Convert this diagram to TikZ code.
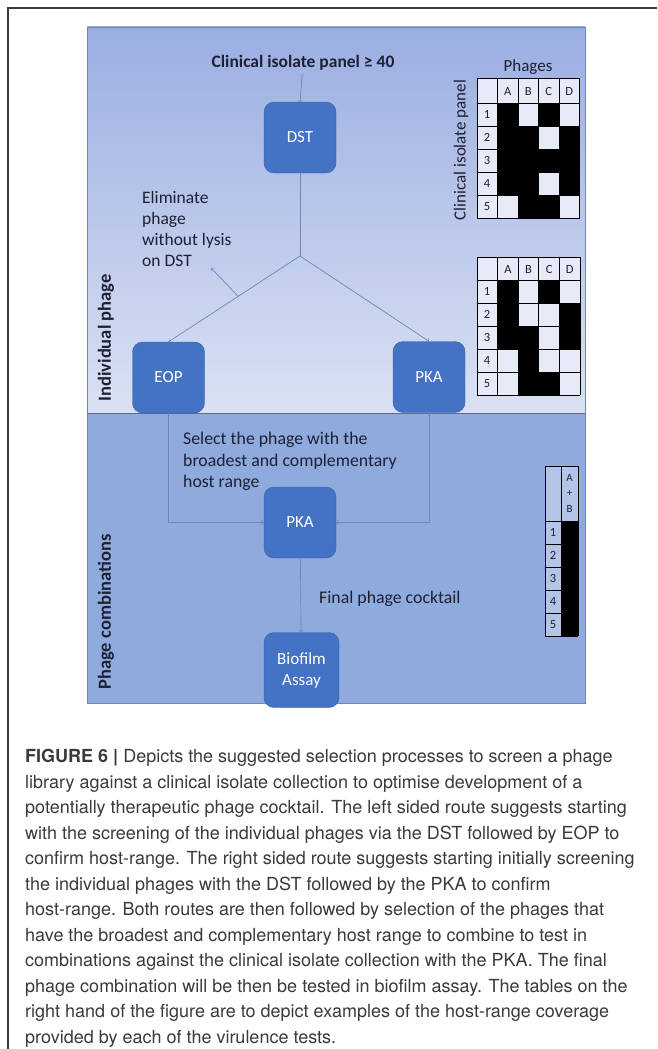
\documentclass[tikz,border=0pt]{standalone}
\usepackage{fontspec}
\setmainfont{Carlito}
\newfontfamily\capfont{TeX Gyre Heros}
\usetikzlibrary{positioning}
\usetikzlibrary{calc}

\definecolor{indivtop}{HTML}{9AAEE1}
\definecolor{indivbot}{HTML}{DAE1F3}
\definecolor{combifill}{HTML}{8FAADC}
\definecolor{paneledge}{HTML}{6F84B8}
\definecolor{boxblue}{HTML}{4472C4}
\definecolor{boxedge}{HTML}{3A62AA}
\definecolor{flowline}{HTML}{6F86BA}
\definecolor{inktext}{HTML}{1E2033}
\definecolor{capgray}{HTML}{3A3A3A}
\definecolor{celllight}{HTML}{E6EBF7}
\definecolor{cellmid}{HTML}{B3C4E8}

\tikzset{
	stage/.style={draw=boxedge, fill=boxblue, rounded corners=10pt, text=white,
		minimum width=72pt, minimum height=71pt, align=center,
		font=\fontsize{17}{21}\selectfont},
	flow/.style={color=flowline, line width=0.7pt},
	note/.style={text=inktext, align=left, inner sep=0pt},
	tabline/.style={draw=black, line width=0.8pt},
	cellfont/.style={text=inktext, inner sep=0pt, font=\fontsize{12.5}{14}\selectfont}
}

\begin{document}
\begin{tikzpicture}[x=1pt,y=-1pt]
	\useasboundingbox (0,0) rectangle (657,1049);
	\fill[white] (0,0) rectangle (657,1049);
	% open frame of the figure
	\draw[color=capgray, line width=1.2pt] (8,1049) -- (8,8) -- (657,8);

	% the two stages of the panel
	\shade[top color=indivtop, bottom color=indivbot] (87,27) rectangle (585,413);
	\fill[combifill] (87,413) rectangle (585,703);
	\draw[paneledge, line width=0.8pt] (87,27) rectangle (585,703);
	\draw[color=paneledge!80!black, line width=0.8pt] (87,413) -- (585,413);

	\node[rotate=90, text=inktext, font=\fontsize{18.5}{21}\selectfont\bfseries] (indiv) at (106,338) {Individual phage};
	\node[rotate=90, text=inktext, font=\fontsize{18.5}{21}\selectfont\bfseries] (combi) at (106,612) {Phage combinations};

	% flow chart
	\node[text=inktext, font=\fontsize{17.5}{20}\selectfont\bfseries] (panel) at (303,63) {Clinical isolate panel ≥ 40};
	\node[stage] (dst) at (300,137.5) {DST};
	\node[stage] (eop) at (168.5,377.5) {EOP};
	\node[stage] (pkarange) at (429,377) {PKA};
	\node[stage] (pkacombo) at (300,522.5) {PKA};
	\node[stage, minimum width=75pt, minimum height=75pt] (bio) at (301.5,670) {Biofilm\\Assay};
	\coordinate (split) at (300,256);
	\coordinate (droptip) at (211,268);

	\draw[flow][->] (panel) -- ([yshift=-1pt]dst.north) ;
	\draw[flow] (dst) -- (split);
	\draw[flow][->] (split) -- coordinate[pos=0.47] (drop) (eop.north);
	\draw[flow][->] (split) -- (pkarange.north);
	\draw[flow][->] (drop) -- (droptip);
	\draw[flow][->] (eop.south) |- (pkacombo.west);
	\draw[flow][->] (pkarange.south) |- (pkacombo.east);
	\draw[flow][->] (pkacombo) -- (bio);

	\node[note, anchor=north west, font=\fontsize{17.5}{21.2}\selectfont] (elim) at (142,191) {Eliminate\\phage\\without lysis\\on DST};
	\node[note, anchor=north west, font=\fontsize{17.8}{21.5}\selectfont] (select) at (183,432) {Select the phage with the\\broadest and complementary\\host range};
	\node[note, anchor=west, font=\fontsize{17.8}{20}\selectfont] (final) at (319,599) {Final phage cocktail};

	% host range table after DST
	\node[text=inktext, font=\fontsize{17}{19}\selectfont] (phages) at (528,67) {Phages};
	\node[rotate=90, text=inktext, font=\fontsize{17}{19}\selectfont] (isolates) at (461,150) {Clinical isolate panel};
	\fill[celllight] (477,78) rectangle (579,218);
	\foreach \c/\r in {1/1,3/1,1/2,2/2,4/2,1/3,2/3,3/3,4/3,1/4,2/4,4/4,2/5,3/5}
		\fill[black] ({477+20.5*\c},{103+23*(\r-1)}) rectangle ++(20.5,23);
	\foreach \x in {477,497.5,518,538.5,559,579.5}
		\draw[tabline] (\x,78) -- (\x,218);
	\foreach \y in {78,103,126,149,172,195,218}
		\draw[tabline] (477,\y) -- (579.5,\y);
	\foreach \c/\l in {1/A,2/B,3/C,4/D}
		\node[cellfont] (dsthead\c) at ({477+20.5*\c+10.25},91) {\l};
	\foreach \r in {1,...,5}
		\node[cellfont] (dstrow\r) at (487,{103+23*\r-11.5}) {\r};

	% host range table after EOP / PKA
	\fill[celllight] (477,257) rectangle (580,395);
	\foreach \c/\r in {1/1,3/1,1/2,4/2,1/3,2/3,4/3,2/4,2/5,3/5}
		\fill[black] ({477+20.6*\c},{280+23*(\r-1)}) rectangle ++(20.6,23);
	\foreach \x in {477,497.6,518.2,538.8,559.4,580}
		\draw[tabline] (\x,257) -- (\x,395);
	\foreach \y in {257,280,303,326,349,372,395}
		\draw[tabline] (477,\y) -- (580,\y);
	\foreach \c/\l in {1/A,2/B,3/C,4/D}
		\node[cellfont] (eophead\c) at ({477+20.6*\c+10.3},269) {\l};
	\foreach \r in {1,...,5}
		\node[cellfont] (eoprow\r) at (487,{280+23*\r-11.5}) {\r};

	% host range of the combination
	\fill[cellmid] (545,466) rectangle (578,636);
	\fill[black] (561,521) rectangle (578,636);
	\foreach \x in {545,561,578}
		\draw[tabline] (\x,466) -- (\x,636);
	\foreach \y in {466,521,544,567,590,613,636}
		\draw[tabline] (545,\y) -- (578,\y);
	\node[cellfont, align=center, font=\fontsize{11}{15.5}\selectfont] (combohead) at (569.5,493) {A\\+\\B};
	\foreach \r in {1,...,5}
		\node[cellfont] (comborow\r) at (553,{521+23*\r-11.5}) {\r};

	% caption
	\node[anchor=north west, inner sep=0pt, align=left, text=capgray,
		font=\capfont\fontsize{18}{25.5}\selectfont] (caption) at (25,749)
		{\textbf{FIGURE 6 |} Depicts the suggested selection processes to screen a phage\\
		library against a clinical isolate collection to optimise development of a\\
		potentially therapeutic phage cocktail. The left sided route suggests starting\\
		with the screening of the individual phages via the DST followed by EOP to\\
		confirm host-range. The right sided route suggests starting initially screening\\
		the individual phages with the DST followed by the PKA to confirm\\
		host-range. Both routes are then followed by selection of the phages that\\
		have the broadest and complementary host range to combine to test in\\
		combinations against the clinical isolate collection with the PKA. The final\\
		phage combination will be then be tested in biofilm assay. The tables on the\\
		right hand of the figure are to depict examples of the host-range coverage\\
		provided by each of the virulence tests.};
\end{tikzpicture}
\end{document}
